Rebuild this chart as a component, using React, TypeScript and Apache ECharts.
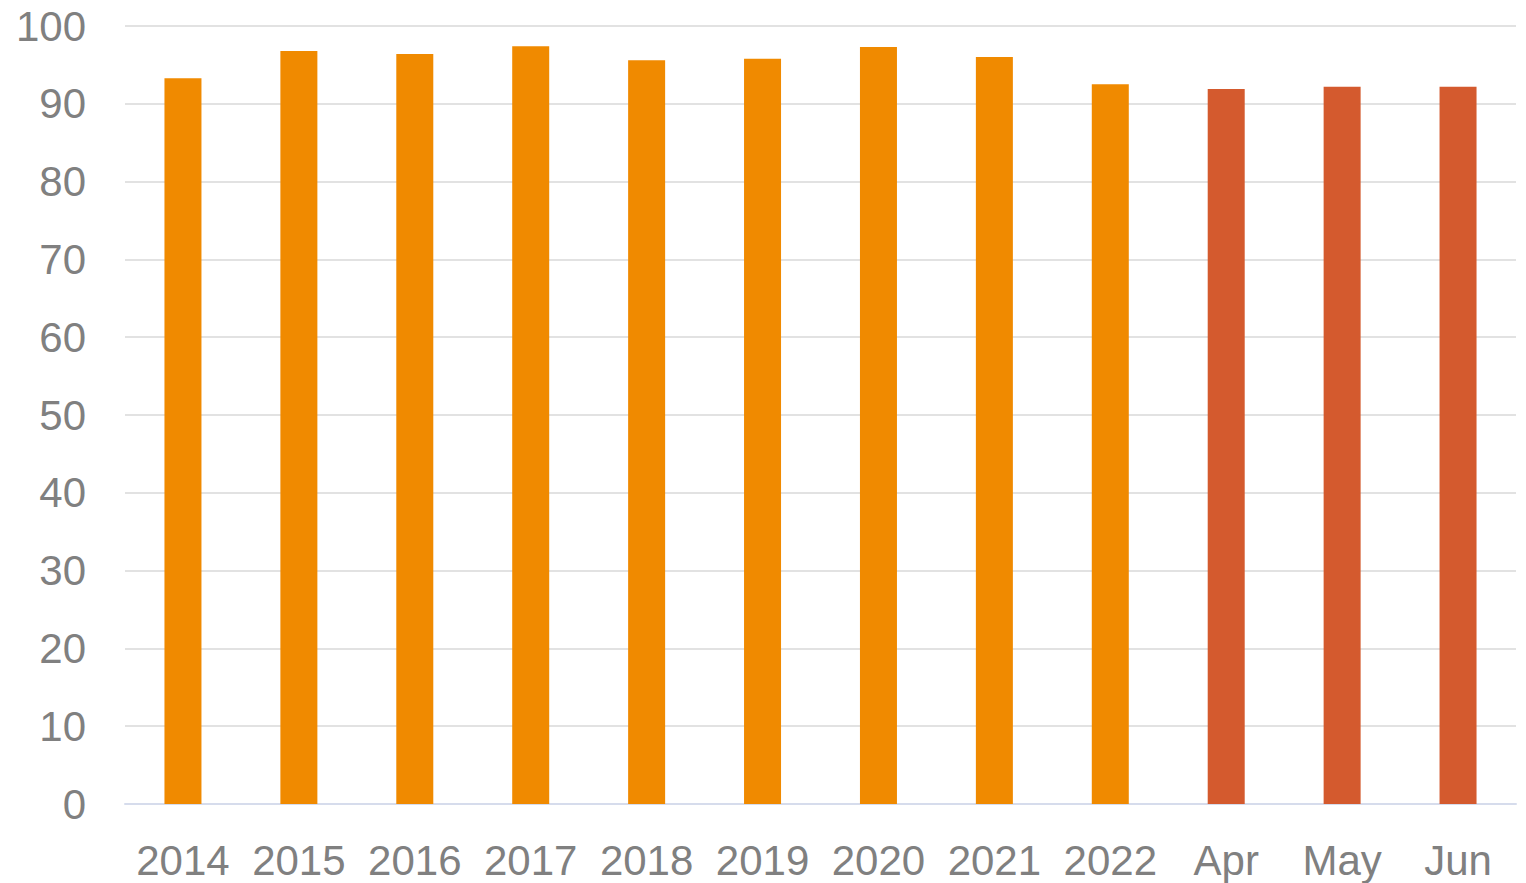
import React, { useEffect, useRef } from "react";
import * as echarts from "echarts";

const categories = ["2014", "2015", "2016", "2017", "2018", "2019", "2020", "2021", "2022", "Apr", "May", "Jun"];
const values = [93.3, 96.8, 96.4, 97.4, 95.6, 95.8, 97.3, 96.0, 92.5, 91.9, 92.2, 92.2];
const highlightFrom = 9;
const yTicks = { min: 0, max: 100, interval: 10 };

const ORANGE = "#F08A00";
const RED = "#D45A2E";

export default function App() {
  const ref = useRef<HTMLDivElement>(null);
  useEffect(() => {
    if (!ref.current) return;
    const chart = echarts.init(ref.current, null, { renderer: "svg" });
    chart.setOption({
      animation: false,
      grid: { left: 125, right: 10, top: 26, bottom: 79, containLabel: false },
      xAxis: {
        type: "category",
        data: categories,
        axisLine: { show: true, lineStyle: { color: "#D6DCEC", width: 2 } },
        axisTick: { show: false },
        axisLabel: {
          interval: 0,
          color: "#808080",
          fontSize: 42,
          fontFamily: "Liberation Sans",
          margin: 35,
        },
      },
      yAxis: {
        type: "value",
        min: yTicks.min,
        max: yTicks.max,
        interval: yTicks.interval,
        axisLine: { show: false },
        axisTick: { show: false },
        splitLine: { lineStyle: { color: "#D9D9D9", width: 1.5 } },
        axisLabel: {
          color: "#808080",
          fontSize: 42,
          fontFamily: "Liberation Sans",
          margin: 39,
        },
      },
      series: [
        {
          type: "bar",
          barWidth: 37,
          data: values.map((v, i) => ({
            value: v,
            itemStyle: { color: i >= highlightFrom ? RED : ORANGE },
          })),
        },
      ],
    });
    return () => chart.dispose();
  }, []);
  return (
    <div
      ref={ref}
      style={{ position: "fixed", left: 0, top: 0, width: 1526, height: 883, background: "#fff" }}
    />
  );
}
